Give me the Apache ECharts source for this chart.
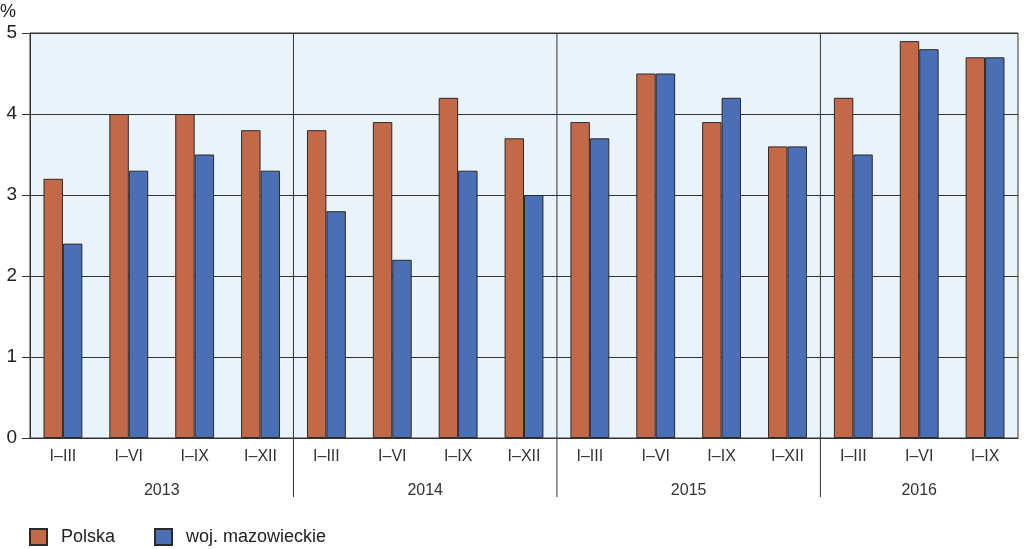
<!DOCTYPE html>
<html><head><meta charset="utf-8">
<script src="https://cdn.jsdelivr.net/npm/echarts@6/dist/echarts.min.js"></script>
<style>html,body{margin:0;padding:0;background:#fff}#c{width:1024px;height:549px}</style>
</head><body><div id="c"></div>
<script>
const years = ['2013', '2014', '2015', '2016'];
const periodsPerYear = [4, 4, 4, 3];
const periods = ['I–III','I–VI','I–IX','I–XII','I–III','I–VI','I–IX','I–XII','I–III','I–VI','I–IX','I–XII','I–III','I–VI','I–IX'];
const polska = [3.2, 4.0, 4.0, 3.8, 3.8, 3.9, 4.2, 3.7, 3.9, 4.5, 3.9, 3.6, 4.2, 4.9, 4.7];
const mazowieckie = [2.4, 3.3, 3.5, 3.3, 2.8, 2.2, 3.3, 3.0, 3.7, 4.5, 4.2, 3.6, 3.5, 4.8, 4.7];
const yTicks = [0, 1, 2, 3, 4, 5];

const groups = [];
let s = 0;
years.forEach((y, i) => { groups.push([s, s + periodsPerYear[i], y]); s += periodsPerYear[i]; });

const font = 'Liberation Sans, Arial, sans-serif';
const chart = echarts.init(document.getElementById('c'));
chart.setOption({
  animation: false,
  textStyle: { fontFamily: font },
  grid: { left: 30, right: 6, top: 33, bottom: 111, containLabel: false, outerBoundsMode: 'none', show: true, backgroundColor: '#eaf3fa', borderColor: '#333', borderWidth: 1 },
  legend: {
    left: 24, bottom: -2, itemWidth: 17, itemHeight: 16, itemGap: 39,
    textStyle: { fontSize: 18, color: '#222', fontFamily: font, padding: [0, 0, 0, 9] },
    data: [{ name: 'Polska', icon: 'rect' }, { name: 'woj. mazowieckie', icon: 'rect' }]
  },
  xAxis: [{
    type: 'category', data: periods,
    axisLine: { lineStyle: { color: '#333' } }, axisTick: { show: false },
    axisLabel: { fontSize: 16, color: '#333', margin: 11, fontFamily: font }
  }, {
    type: 'value', min: 0, max: s, show: false
  }],
  yAxis: {
    type: 'value', min: yTicks[0], max: yTicks[yTicks.length - 1], interval: 1,
    name: '%', nameLocation: 'end', nameGap: 12,
    nameTextStyle: { fontSize: 18, color: '#222', align: 'right', padding: [0, 14, 0, 0] },
    axisLine: { show: true, lineStyle: { color: '#333' } },
    axisTick: { show: true, length: 8, lineStyle: { color: '#333' } },
    axisLabel: { fontSize: 19, color: '#222', margin: 13, fontFamily: font },
    splitLine: { lineStyle: { color: '#333', width: 1 } }
  },
  series: [{
    name: 'Polska', type: 'bar', data: polska, barGap: '0%', barCategoryGap: '41%',
    itemStyle: { color: '#c2694a', borderColor: '#2a2a2a', borderWidth: 1 }
  }, {
    name: 'woj. mazowieckie', type: 'bar', data: mazowieckie,
    itemStyle: { color: '#4a6fb4', borderColor: '#2a2a2a', borderWidth: 1 }
  }, {
    type: 'custom', xAxisIndex: 1, yAxisIndex: 0, silent: true, clip: false,
    data: groups,
    renderItem: function (params, api) {
      const st = api.value(0), en = api.value(1);
      const top = api.coord([st, 5]), bot = api.coord([st, 0]);
      const c = api.coord([(st + en) / 2, 0]);
      const children = [{
        type: 'text', style: { text: groups[params.dataIndex][2], x: c[0], y: c[1] + 53, align: 'center', verticalAlign: 'middle', fontSize: 16, fill: '#333', fontFamily: font }
      }];
      if (st > 0) {
        children.push({ type: 'line', shape: { x1: top[0], y1: top[1], x2: bot[0], y2: bot[1] + 59 }, style: { stroke: '#333', lineWidth: 1 } });
      }
      return { type: 'group', children: children };
    }
  }]
});
</script></body></html>
